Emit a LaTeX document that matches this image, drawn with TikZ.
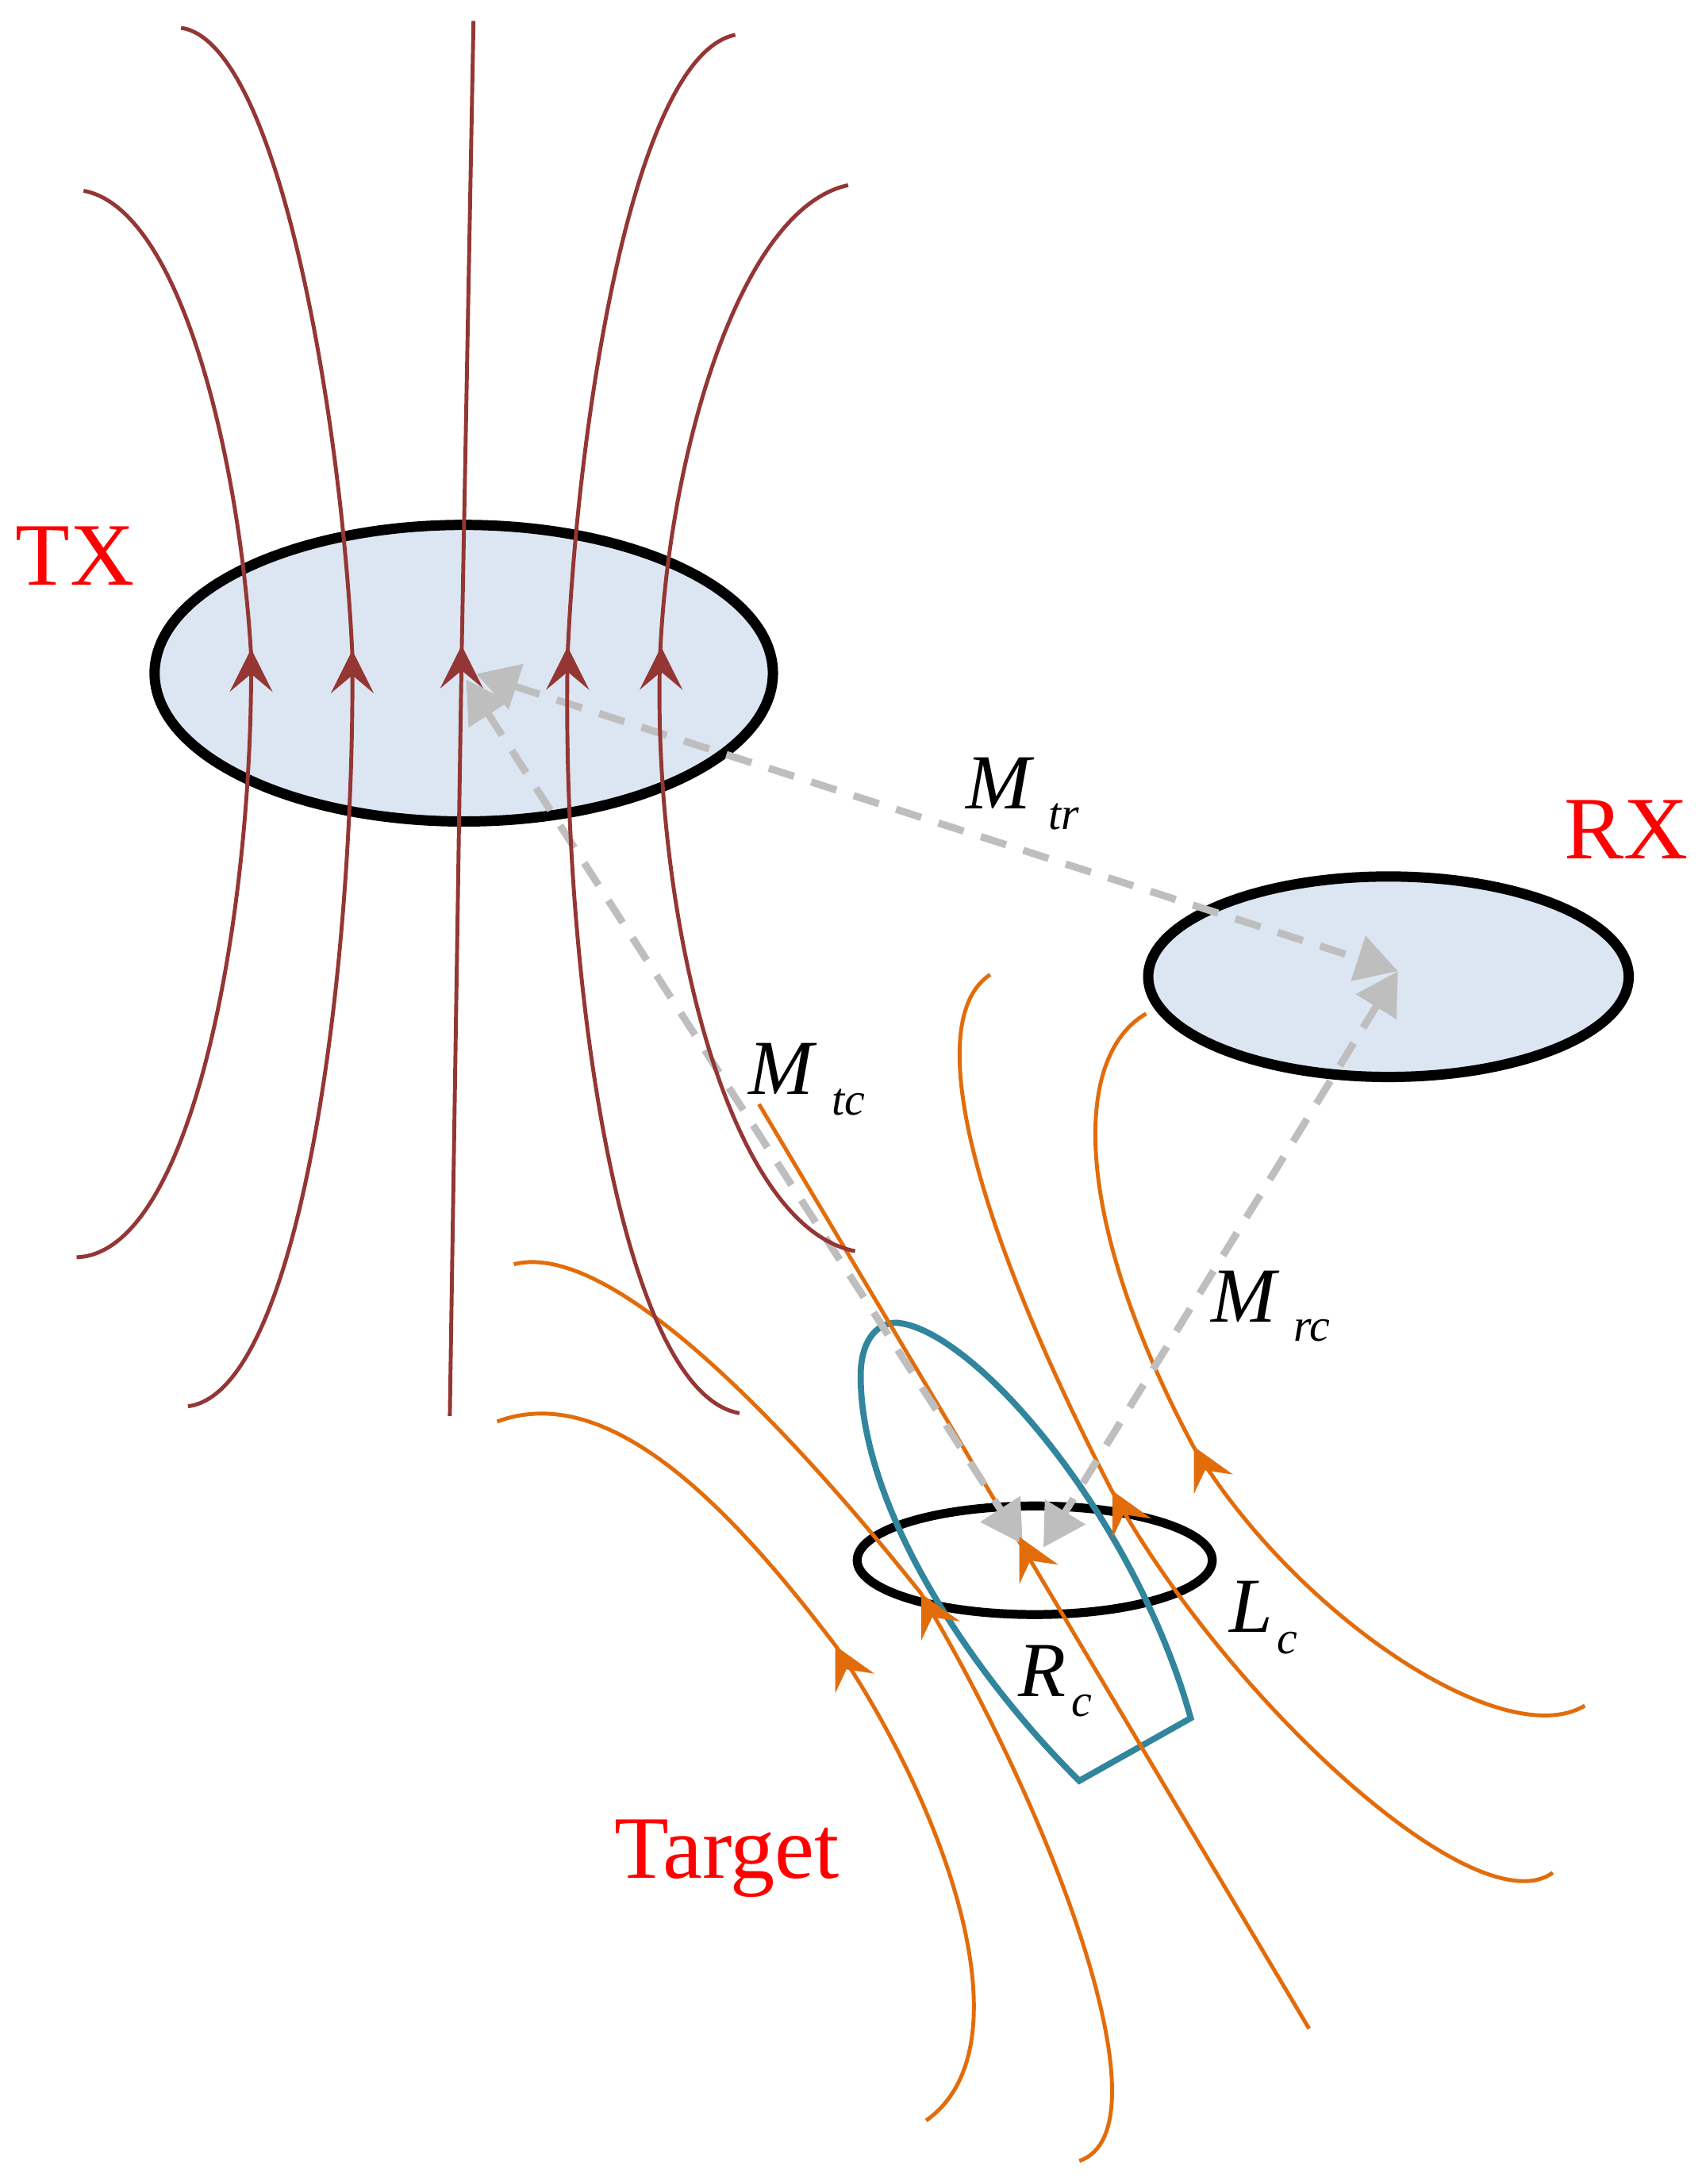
\documentclass[tikz,border=0pt]{standalone}
\usepackage{fontspec}
\setmainfont{Liberation Serif}
\usetikzlibrary{arrows.meta,shapes.geometric}
\definecolor{brownline}{HTML}{943634}
\definecolor{orangeline}{HTML}{E36C0A}
\definecolor{tealline}{HTML}{31859C}
\definecolor{coilfill}{HTML}{DCE6F2}
\definecolor{mutual}{HTML}{BEBEBE}
\newcommand{\brownhead}[1]{\fill[brownline] #1 -- +(-15.5,31) -- +(0,18) -- +(15.5,31) -- cycle;}
\newcommand{\orangehead}[1]{\fill[orangeline] #1 -- +(28,20) -- +(8,17) -- +(0,34) -- cycle;}
\tikzset{
  coil/.style={draw=black,ellipse,inner sep=0pt,outer sep=0pt},
  brownfield/.style={draw=brownline,line width=2.8pt},
  orangefield/.style={draw=orangeline,line width=2.8pt},
  tealloop/.style={draw=tealline,line width=4.4pt,line join=miter},
  mutualline/.style={draw=mutual,line width=5.2pt,dash pattern=on 19pt off 13pt,
    {Triangle[length=30pt,width=33pt]}-{Triangle[length=30pt,width=33pt]}},
  redlabel/.style={text=red,anchor=base west,inner sep=0pt,font=\fontsize{64}{70}\selectfont},
  symb/.style={anchor=base west,inner sep=0pt,font=\fontsize{56}{60}\selectfont\itshape},
  subsym/.style={anchor=base west,inner sep=0pt,font=\fontsize{33}{36}\selectfont\itshape}
}
\begin{document}
\begin{tikzpicture}[x=1pt,y=-1pt]
\useasboundingbox (0,0) rectangle (1225,1568.6);
% coils
\node[coil,fill=coilfill,line width=7.4pt,minimum width=444pt,minimum height=213pt] (tx) at (333,483.5) {};
\node[coil,fill=coilfill,line width=7.4pt,minimum width=345pt,minimum height=144pt] (rx) at (997,701.5) {};
\node[coil,line width=6.4pt,minimum width=255pt,minimum height=78pt] (target) at (743,1120.6) {};
% equivalent circuit loop
\draw[tealloop] (775,1279) .. controls (700,1205) and (618,1085) .. (618,988) .. controls (618,965) and (628,950) .. (644,950) .. controls (700,955) and (815,1090) .. (855,1234) -- cycle;
% target field lines
\draw[orangefield] (823,728) .. controls (768,760) and (772,880) .. (857,1039) .. controls (930,1160) and (1080,1260) .. (1138,1225);
\draw[orangefield] (711,700) .. controls (665,730) and (690,860) .. (798,1070) .. controls (880,1220) and (1060,1385) .. (1115,1345);
\draw[orangefield] (545,793) -- (940,1457);
\draw[orangefield] (369,908) .. controls (440,890) and (570,1030) .. (661,1144) .. controls (760,1310) and (840,1530) .. (775,1552);
\draw[orangefield] (357,1021) .. controls (440,990) and (530,1090) .. (600,1182) .. controls (680,1300) and (740,1470) .. (665,1523);
% mutual inductance
\coordinate (txA) at (342,484);
\coordinate (txB) at (334.7,488);
\coordinate (rxC) at (1003.8,697.5);
\coordinate (tgA) at (734.4,1109);
\coordinate (tgB) at (749.2,1111.4);
\draw[mutualline] (txA) -- (rxC);
\draw[mutualline] (txB) -- (tgA);
\draw[mutualline] (rxC) -- (tgB);
% transmitter field lines
\draw[brownfield] (60,137) .. controls (130,150) and (172,330) .. (180.3,470) .. controls (182,650) and (140,900) .. (55,903);
\draw[brownfield] (130,20) .. controls (200,30) and (245,300) .. (253,470) .. controls (255,700) and (215,1000) .. (135,1010);
\draw[brownfield] (340,15) -- (331.5,470) -- (323,1017);
\draw[brownfield] (528,25) .. controls (455,40) and (415,300) .. (407.6,470) .. controls (403,700) and (445,1000) .. (531,1015);
\draw[brownfield] (609,133) .. controls (530,150) and (480,330) .. (474,470) .. controls (468,650) and (520,880) .. (614,898.6);
% arrowheads on the field lines
\brownhead{(180.3,466)}
\brownhead{(253,467)}
\brownhead{(331.5,463.5)}
\brownhead{(407.6,464.5)}
\brownhead{(474.7,464.5)}
\orangehead{(857.3,1039)}
\orangehead{(798.8,1070.7)}
\orangehead{(731.9,1103.8)}
\orangehead{(661.4,1144.5)}
\orangehead{(599.8,1182)}
% labels
\node[redlabel] (txlabel) at (11,420) {TX};
\node[redlabel] (rxlabel) at (1123,617) {RX};
\node[redlabel] (targetlabel) at (441,1349) {Target};
\node[symb] (mtr) at (693.6,581) {M};
\node[subsym] (mtrs) at (752.7,595.5) {tr};
\node[symb] (mtc) at (537.5,786) {M};
\node[subsym] (mtcs) at (597.3,800.6) {tc};
\node[symb] (mrc) at (869.6,949.3) {M};
\node[subsym] (mrcs) at (928.8,963.3) {rc};
\node[symb] (lc) at (882.6,1172.4) {L};
\node[subsym] (lcs) at (916.9,1187.5) {c};
\node[symb] (rc) at (731.3,1218.2) {R};
\node[subsym] (rcs) at (769.3,1232.5) {c};
\end{tikzpicture}
\end{document}
